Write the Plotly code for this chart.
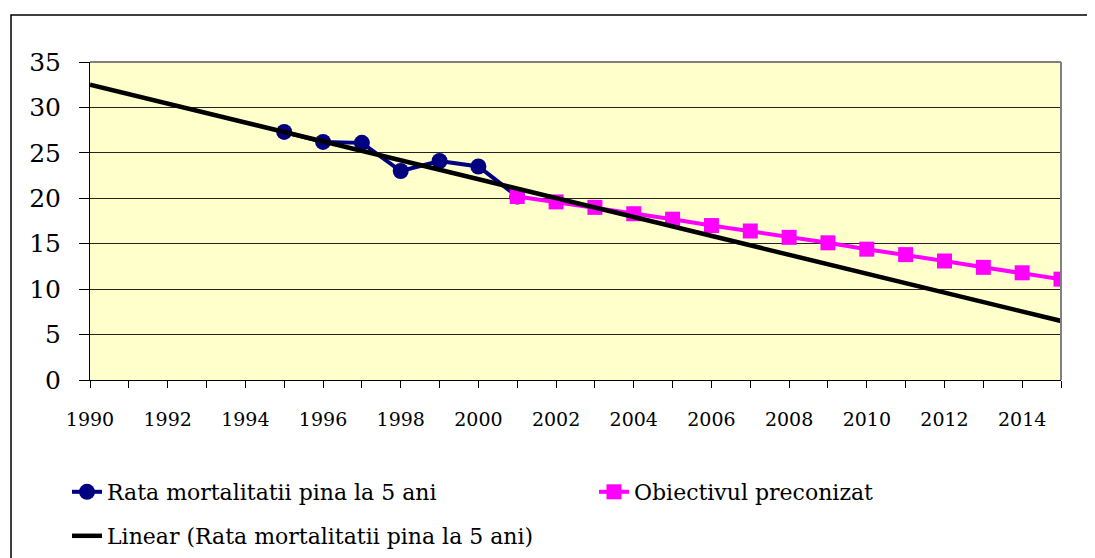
import plotly.graph_objects as go

# ---- data ----
rata_years = [1995, 1996, 1997, 1998, 1999, 2000, 2001]
rata_values = [27.3, 26.2, 26.1, 23.0, 24.1, 23.5, 20.2]

obiectiv_years = [2001, 2002, 2003, 2004, 2005, 2006, 2007, 2008,
                  2009, 2010, 2011, 2012, 2013, 2014, 2015]
obiectiv_values = [20.2, 19.6, 19.0, 18.3, 17.7, 17.0, 16.4, 15.7,
                   15.1, 14.4, 13.8, 13.1, 12.4, 11.8, 11.1]

trend_years = [1990, 2015]
trend_values = [32.5, 6.5]

y_ticks = [0, 5, 10, 15, 20, 25, 30, 35]

name_rata = "Rata mortalitatii pina la 5 ani"
name_obj = "Obiectivul preconizat"
name_trend = "Linear (Rata mortalitatii pina la 5 ani)"

FONT = "DejaVu Serif"

# geometry: page offset (body margin) and plot-area margins
OFF = 8
W, H = 1095, 558
L, R, T, B = 82, 42, 54, 186
PW, PH = W - L - R, H - T - B


def px(x):
    """screen x pixel -> paper x"""
    return (x - OFF - L) / PW


def py(y):
    """screen y pixel -> paper y"""
    return (H - B - (y - OFF)) / PH


fig = go.Figure()

fig.add_trace(go.Scatter(
    x=rata_years, y=rata_values, name=name_rata, mode="lines+markers",
    line=dict(color="#000080", width=4),
    marker=dict(symbol="circle", size=16, color="#000080"),
    legend="legend",
))
fig.add_trace(go.Scatter(
    x=obiectiv_years, y=obiectiv_values, name=name_obj, mode="lines+markers",
    line=dict(color="#FF00FF", width=4),
    marker=dict(symbol="square", size=15, color="#FF00FF"),
    legend="legend3",
))
fig.add_trace(go.Scatter(
    x=trend_years, y=trend_values, name=name_trend, mode="lines",
    line=dict(color="#000000", width=4.5),
    legend="legend2",
))

leg_common = dict(
    orientation="h", xanchor="left", yanchor="middle",
    font=dict(family=FONT, size=22, color="black"),
    bgcolor="rgba(0,0,0,0)", itemwidth=30,
)

fig.update_layout(
    width=W, height=H,
    margin=dict(l=L, r=R, t=T, b=B, autoexpand=False),
    paper_bgcolor="white",
    plot_bgcolor="#FFFFCC",
    font=dict(family=FONT, color="black"),
    legend=dict(x=px(67), y=py(492), **leg_common),
    legend3=dict(x=px(594), y=py(492), **leg_common),
    legend2=dict(x=px(67), y=py(536), **leg_common),
    showlegend=True,
)

fig.update_xaxes(
    range=[1990, 2015], tickmode="linear", tick0=1990, dtick=2,
    ticks="outside", ticklen=7, tickcolor="black", tickwidth=1,
    minor=dict(dtick=1, tick0=1990, ticks="outside", ticklen=7,
               tickcolor="black", tickwidth=1, showgrid=False),
    showgrid=False, zeroline=False,
    showline=True, linecolor="black", linewidth=1,
    tickfont=dict(family=FONT, size=19, color="black"),
    ticklabelstandoff=15,
)
fig.update_yaxes(
    range=[0, 35], tickvals=y_ticks,
    ticks="outside", ticklen=10, tickcolor="black", tickwidth=1,
    showgrid=True, gridcolor="#222222", gridwidth=1,
    zeroline=False,
    showline=True, linecolor="black", linewidth=1,
    tickfont=dict(family=FONT, size=25, color="black"),
    ticklabelstandoff=13,
)

# gray border on the top and right of the plot area
fig.add_shape(type="line", xref="paper", yref="paper", x0=0, x1=1, y0=1, y1=1,
              line=dict(color="#808080", width=2))
fig.add_shape(type="line", xref="paper", yref="paper", x0=1, x1=1, y0=0, y1=1,
              line=dict(color="#808080", width=2))
# outer chart frame (left and top edges visible)
fig.add_shape(type="rect", xref="paper", yref="paper",
              x0=px(11), x1=px(1110), y0=py(575), y1=py(15),
              line=dict(color="black", width=1.5), layer="below")

fig.write_html("out.html")
